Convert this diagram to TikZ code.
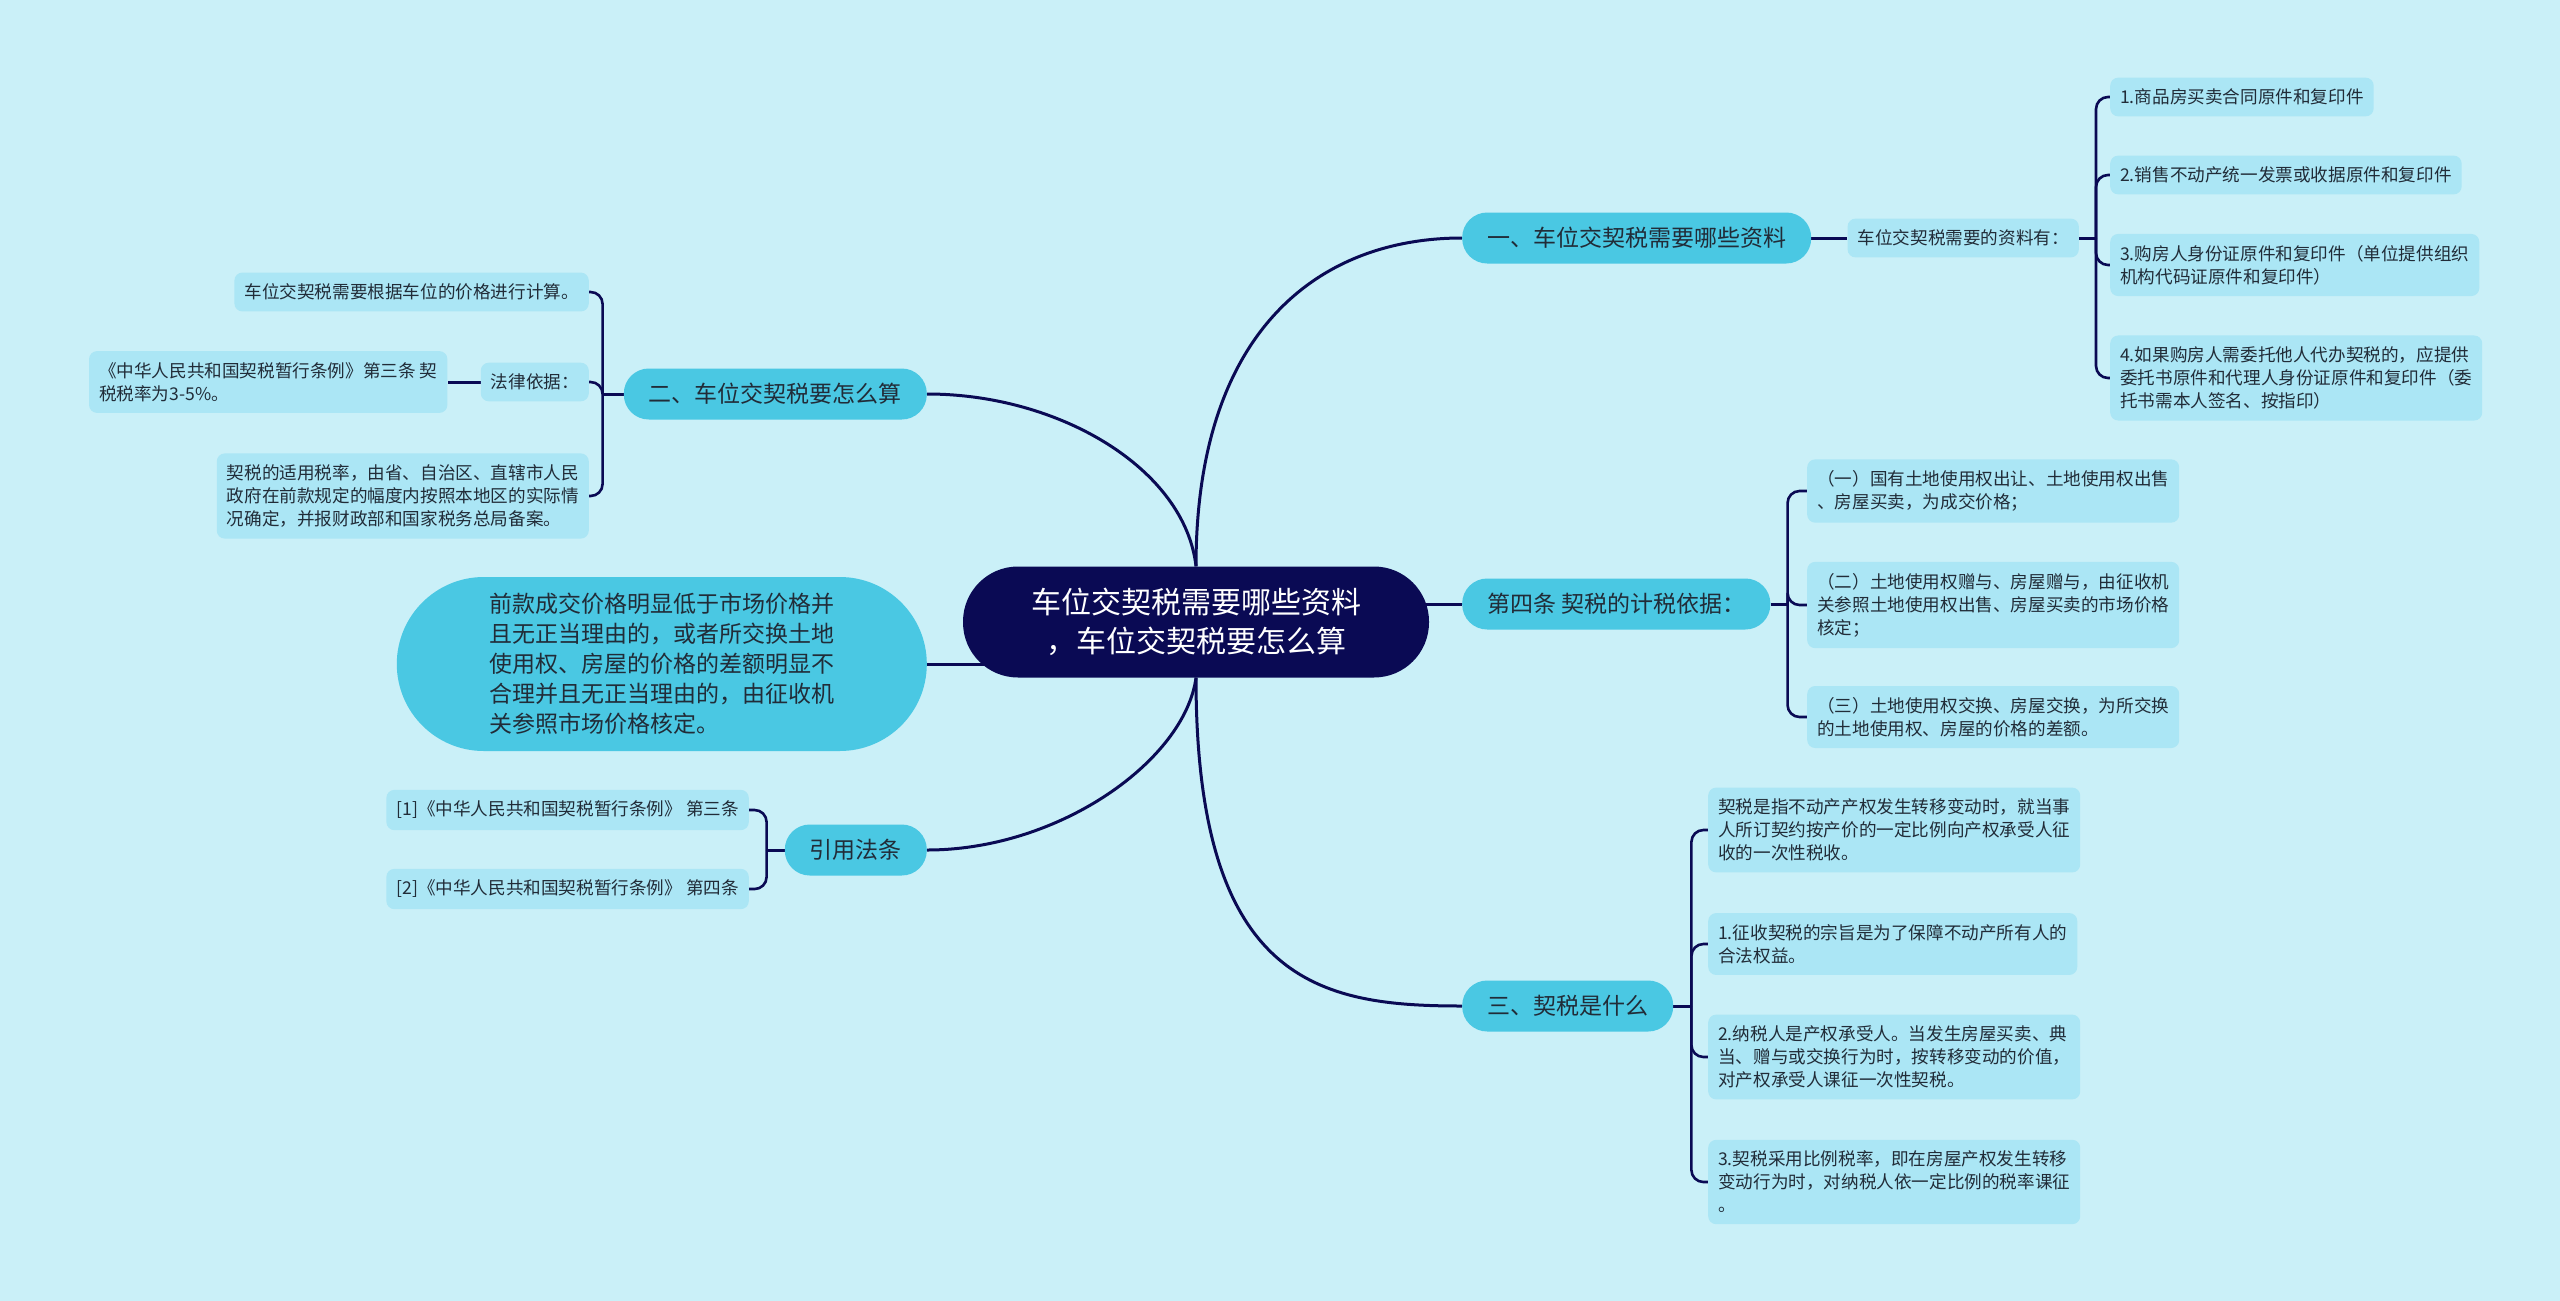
\documentclass[tikz,border=0pt]{standalone}
\usepackage{fontspec}
\setmainfont{Noto Sans CJK SC}
\usetikzlibrary{positioning}
\definecolor{paper}{RGB}{202,240,248}
\definecolor{navy}{RGB}{10,10,84}
\definecolor{topic}{RGB}{74,200,227}
\definecolor{leaf}{RGB}{171,230,245}
\definecolor{ink}{RGB}{33,44,56}
\pgfdeclarelayer{edges}
\pgfsetlayers{edges,main}

\begin{document}
\begin{tikzpicture}[x=1pt,y=-1pt,
    root/.style={fill=navy,text=white,rounded corners=55pt,minimum height=111pt,
      inner xsep=68pt,align=center,font=\fontsize{30}{39}\selectfont},
    topic/.style={fill=topic,text=ink,rounded corners=25pt,minimum height=51pt,
      inner xsep=25pt,font=\fontsize{23}{30}\selectfont},
    leaf/.style={fill=leaf,text=ink,rounded corners=8pt,inner xsep=10pt,
      inner ysep=11.2pt,align=left,font=\fontsize{17.6}{23}\selectfont},
    link/.style={draw=navy,line width=3pt},
    fork/.style={draw=navy,line width=2.6pt,rounded corners=12pt}]
  \begin{pgfonlayer}{edges}
    \fill[paper] (0,0) rectangle (2560,1301);
  \end{pgfonlayer}
  \useasboundingbox (0,0) rectangle (2560,1301);

  \node[root] (root) at (1196,622) {车位交契税需要哪些资料\\，车位交契税要怎么算};

  \node[topic,anchor=west] (t1) at (1462,238) {一、车位交契税需要哪些资料};
  \node[topic,anchor=west] (t4) at (1462,604) {第四条 契税的计税依据：};
  \node[topic,anchor=west] (t3) at (1462,1006) {三、契税是什么};
  \node[topic,anchor=east] (t2) at (927,394) {二、车位交契税要怎么算};
  \node[topic,anchor=east,align=left,rounded corners=87pt,minimum width=530pt,
    minimum height=174pt] (t6) at (927,664)
    {前款成交价格明显低于市场价格并\\且无正当理由的，或者所交换土地\\使用权、房屋的价格的差额明显不\\合理并且无正当理由的，由征收机\\关参照市场价格核定。};
  \node[topic,anchor=east] (t5) at (927,850) {引用法条};

  \node[leaf,right=36pt of t1] (a0) {车位交契税需要的资料有：};
  \node[leaf,anchor=west] (a1) at (2110,97) {1.商品房买卖合同原件和复印件};
  \node[leaf,anchor=west] (a2) at (2110,175) {2.销售不动产统一发票或收据原件和复印件};
  \node[leaf,anchor=west] (a3) at (2110,265) {3.购房人身份证原件和复印件（单位提供组织\\机构代码证原件和复印件）};
  \node[leaf,anchor=west] (a4) at (2110,378) {4.如果购房人需委托他人代办契税的，应提供\\委托书原件和代理人身份证原件和复印件（委\\托书需本人签名、按指印）};

  \node[leaf,anchor=west] (b1) at (1807,491) {（一）国有土地使用权出让、土地使用权出售\\、房屋买卖，为成交价格；};
  \node[leaf,anchor=west] (b2) at (1807,605) {（二）土地使用权赠与、房屋赠与，由征收机\\关参照土地使用权出售、房屋买卖的市场价格\\核定；};
  \node[leaf,anchor=west] (b3) at (1807,717) {（三）土地使用权交换、房屋交换，为所交换\\的土地使用权、房屋的价格的差额。};

  \node[leaf,anchor=west] (c1) at (1708,830) {契税是指不动产产权发生转移变动时，就当事\\人所订契约按产价的一定比例向产权承受人征\\收的一次性税收。};
  \node[leaf,anchor=west] (c2) at (1708,944) {1.征收契税的宗旨是为了保障不动产所有人的\\合法权益。};
  \node[leaf,anchor=west] (c3) at (1708,1057) {2.纳税人是产权承受人。当发生房屋买卖、典\\当、赠与或交换行为时，按转移变动的价值，\\对产权承受人课征一次性契税。};
  \node[leaf,anchor=west] (c4) at (1708,1182) {3.契税采用比例税率，即在房屋产权发生转移\\变动行为时，对纳税人依一定比例的税率课征\\。};

  \node[leaf,anchor=east] (d1) at (589,292) {车位交契税需要根据车位的价格进行计算。};
  \node[leaf,anchor=east] (d2) at (589,382) {法律依据：};
  \node[leaf,left=33pt of d2] (d4) {《中华人民共和国契税暂行条例》第三条 契\\税税率为3-5\%。};
  \node[leaf,anchor=east] (d3) at (589,496) {契税的适用税率，由省、自治区、直辖市人民\\政府在前款规定的幅度内按照本地区的实际情\\况确定，并报财政部和国家税务总局备案。};

  \node[leaf,anchor=east] (f1) at (749,810) {[1]《中华人民共和国契税暂行条例》 第三条};
  \node[leaf,anchor=east] (f2) at (749,889) {[2]《中华人民共和国契税暂行条例》 第四条};

  \coordinate (as) at ([xshift=17pt]a0.east);
  \coordinate (bs) at ([xshift=17pt]t4.east);
  \coordinate (cs) at ([xshift=18pt]t3.east);
  \coordinate (ds) at ([xshift=-21pt]t2.west);
  \coordinate (fs) at ([xshift=-18pt]t5.west);

  \begin{pgfonlayer}{edges}
    \draw[link] (root.north) .. controls +(0,-237) and +(-142,0) .. (t1.west);
    \draw[link] (root.south) .. controls +(0,306) and +(-142,0) .. (t3.west);
    \draw[link] (t2.east) .. controls +(133,0) and +(-11,-97) .. (root.north);
    \draw[link] (t5.east) .. controls +(133,0) and +(-11,82) .. (root.south);
    \draw[link] (root.center |- t4.west) -- (t4.west);
    \draw[link] (t6.east) -- (root.center |- t6.east);
    \draw[link] (t1.east) -- (a0.west);
    \draw[link] (d2.west) -- (d4.east);

    \draw[link] (a0.east) -- (as);
    \draw[link] (t4.east) -- (bs);
    \draw[link] (t3.east) -- (cs);
    \draw[link] (t2.west) -- (ds);
    \draw[link] (t5.west) -- (fs);
    \foreach \c in {a1,a2,a3,a4} \draw[fork] (as) |- (\c.west);
    \foreach \c in {b1,b2,b3} \draw[fork] (bs) |- (\c.west);
    \foreach \c in {c1,c2,c3,c4} \draw[fork] (cs) |- (\c.west);
    \foreach \c in {d1,d2,d3} \draw[fork] (ds) |- (\c.east);
    \foreach \c in {f1,f2} \draw[fork] (fs) |- (\c.east);
  \end{pgfonlayer}
\end{tikzpicture}
\end{document}
